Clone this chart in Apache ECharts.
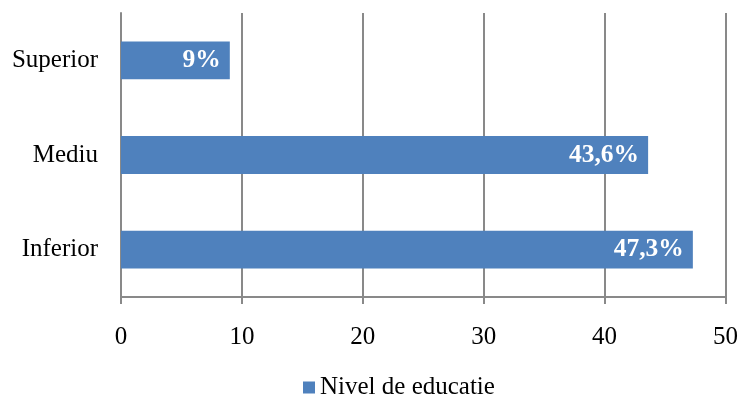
<!DOCTYPE html>
<html><head><meta charset="utf-8">
<script src="https://cdn.jsdelivr.net/npm/echarts@6/dist/echarts.min.js"></script>
<style>html,body{margin:0;padding:0;background:#fff}#c{width:741px;height:397px}</style>
</head><body><div id="c"></div>
<script>
const categories = ['Inferior', 'Mediu', 'Superior'];
const values = [47.3, 43.6, 9];
const valueLabels = ['47,3%', '43,6%', '9%'];
const seriesName = 'Nivel de educatie';
const xTicks = [0, 10, 20, 30, 40, 50];

const FONT = '"Liberation Serif", "Times New Roman", serif';
const chart = echarts.init(document.getElementById('c'), null, {renderer: 'canvas'});
chart.setOption({
  animation: false,
  textStyle: {fontFamily: FONT},
  grid: {left: 121, right: 15, top: 13, bottom: 100, containLabel: false},
  legend: {
    top: 370, left: 298, itemWidth: 12, itemHeight: 12, icon: 'rect', itemGap: 4,
    textStyle: {fontFamily: FONT, fontSize: 25, color: '#000'},
    data: [seriesName]
  },
  xAxis: {
    type: 'value', min: xTicks[0], max: xTicks[xTicks.length - 1], interval: 10,
    axisLine: {show: true, lineStyle: {color: '#898989', width: 2}},
    axisTick: {show: true, length: 7, lineStyle: {color: '#898989', width: 2}},
    axisLabel: {fontFamily: FONT, fontSize: 25, color: '#000', margin: 28},
    splitLine: {show: true, lineStyle: {color: '#898989', width: 2}}
  },
  yAxis: {
    type: 'category', data: categories,
    axisLine: {show: true, lineStyle: {color: '#898989', width: 2}},
    axisTick: {show: false},
    axisLabel: {fontFamily: FONT, fontSize: 25, color: '#000', margin: 23}
  },
  series: [{
    name: seriesName, type: 'bar', data: values, barCategoryGap: '60%',
    itemStyle: {color: '#4F81BD'},
    label: {
      show: true, position: 'insideRight', distance: 9,
      formatter: p => valueLabels[p.dataIndex],
      fontFamily: FONT, fontSize: 25.5, fontWeight: 'bold', color: '#fff'
    }
  }]
});
</script></body></html>
